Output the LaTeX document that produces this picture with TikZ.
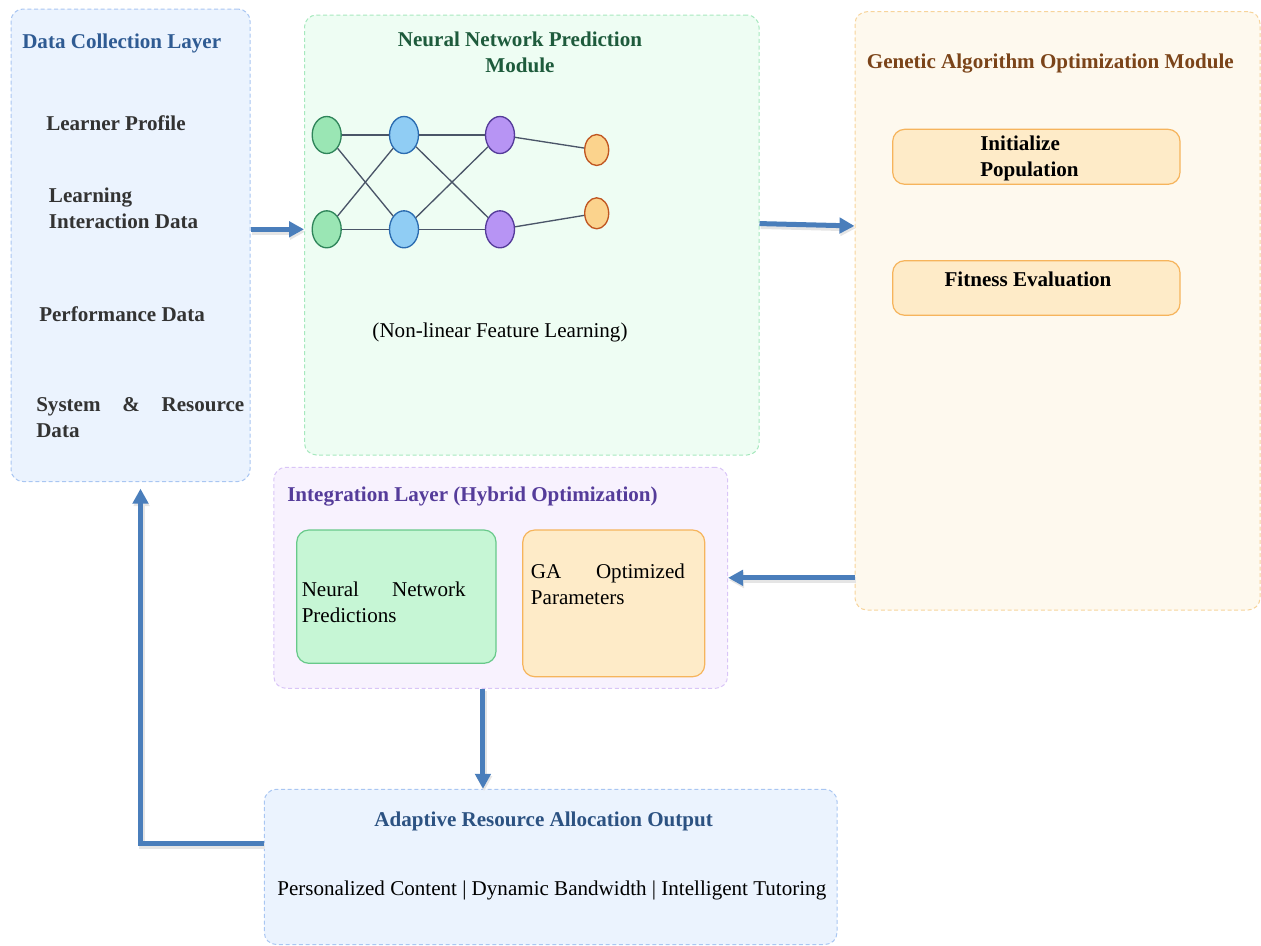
\documentclass[tikz,border=0pt]{standalone}
\usepackage{fontspec}
\setmainfont{Liberation Serif}
\usetikzlibrary{arrows.meta,shapes.geometric,fit}
\definecolor{dcfill}{HTML}{EBF3FE}
\definecolor{dcline}{HTML}{A9C6F2}
\definecolor{nnfill}{HTML}{EEFDF3}
\definecolor{nnline}{HTML}{A6E8BE}
\definecolor{gafill}{HTML}{FEF9EE}
\definecolor{galine}{HTML}{F7D49B}
\definecolor{infill}{HTML}{F8F2FE}
\definecolor{inline}{HTML}{D9C5F7}
\definecolor{predfill}{HTML}{C6F6D5}
\definecolor{predline}{HTML}{68C98A}
\definecolor{parfill}{HTML}{FEEBC8}
\definecolor{parline}{HTML}{F6B45C}
\definecolor{dctitle}{HTML}{2F5B93}
\definecolor{nntitle}{HTML}{1E5B3C}
\definecolor{gatitle}{HTML}{7B4419}
\definecolor{intitle}{HTML}{553C9A}
\definecolor{outtitle}{HTML}{2C5282}
\definecolor{itemgray}{HTML}{333333}
\definecolor{flowblue}{HTML}{4A7EBB}
\definecolor{linkgray}{HTML}{4A5568}
\definecolor{ngfill}{HTML}{9AE6B4}
\definecolor{ngline}{HTML}{2F855A}
\definecolor{nbfill}{HTML}{90CDF4}
\definecolor{nbline}{HTML}{2B6CB0}
\definecolor{npfill}{HTML}{B794F4}
\definecolor{npline}{HTML}{553C9A}
\definecolor{nofill}{HTML}{FBD38D}
\definecolor{noline}{HTML}{C05621}
\tikzset{
  panel/.style={draw, dash pattern=on 3pt off 2pt, line width=0.75pt, rounded corners=9pt, inner sep=0pt},
  inbox/.style={draw, line width=0.9pt, rounded corners=9pt, inner sep=0pt},
  neuron/.style={ellipse, draw, line width=1pt, minimum width=21.75pt, minimum height=27.75pt, inner sep=0pt},
  outneuron/.style={ellipse, draw, line width=1pt, minimum width=18pt, minimum height=23.25pt, inner sep=0pt},
  link/.style={draw=linkgray, line width=1pt},
  txt/.style={inner sep=0pt, align=left},
  ttl/.style={inner sep=0pt, font=\fontsize{15.8}{19.5}\selectfont\bfseries},
  item/.style={inner sep=0pt, align=left, text=itemgray, font=\fontsize{15.8}{19.5}\selectfont\bfseries},
  flow/.style={draw=flowblue, line width=3.75pt, -{Triangle[length=11.25pt,width=11.5pt]},
    preaction={draw=black!10, line width=4.5pt, transform canvas={shift={(0.8pt,-1.8pt)}}}}
}
\begin{document}
\begin{tikzpicture}[x=0.75pt,y=-0.75pt, font=\fontsize{15.8}{19.5}\selectfont]
\useasboundingbox (0,0) rectangle (1261,946);
% panels
\node[panel, draw=dcline, fill=dcfill, fit={(11,9) (250,481.5)}] (dc) {};
\node[panel, draw=nnline, fill=nnfill, fit={(304.5,15) (759,455)}] (nn) {};
\node[panel, draw=galine, fill=gafill, fit={(855,11.7) (1260,610)}] (ga) {};
\node[panel, draw=inline, fill=infill, fit={(273.8,467.3) (727.6,688.3)}] (int) {};
\node[panel, draw=dcline, fill=dcfill, fit={(264.3,789.3) (837,944.5)}] (out) {};
% inner boxes
\node[inbox, draw=parline, fill=parfill, fit={(892.7,129.3) (1180,184.3)}] (init) {};
\node[inbox, draw=parline, fill=parfill, fit={(892.7,260.7) (1180,315.3)}] (fit) {};
\node[inbox, draw=predline, fill=predfill, fit={(296.8,530) (496,663.3)}] (pred) {};
\node[inbox, draw=parline, fill=parfill, fit={(522.8,530) (704.7,676.7)}] (par) {};
% neurons
\node[neuron, draw=ngline, fill=ngfill] (g1) at (326.7,135) {};
\node[neuron, draw=ngline, fill=ngfill] (g2) at (326.7,229.3) {};
\node[neuron, draw=nbline, fill=nbfill] (b1) at (404,135) {};
\node[neuron, draw=nbline, fill=nbfill] (b2) at (404,229.3) {};
\node[neuron, draw=npline, fill=npfill] (p1) at (500,135) {};
\node[neuron, draw=npline, fill=npfill] (p2) at (500,229.3) {};
\node[outneuron, draw=noline, fill=nofill] (o1) at (596.7,150) {};
\node[outneuron, draw=noline, fill=nofill] (o2) at (596.7,213.3) {};
\draw[link] (g1) -- (b1);
\draw[link] (g1) -- (b2);
\draw[link] (g2) -- (b1);
\draw[link] (g2) -- (b2);
\draw[link] (b1) -- (p1);
\draw[link] (b1) -- (p2);
\draw[link] (b2) -- (p1);
\draw[link] (b2) -- (p2);
\draw[link] (p1) -- (o1);
\draw[link] (p2) -- (o2);
% texts: data collection
\node[ttl, text=dctitle, anchor=base west] (dct) at (22,48) {Data Collection Layer};
\node[item, anchor=base west] (lp) at (46,130) {Learner Profile};
\node[item, anchor=base west] (lid) at (48.7,228) {Learning\\Interaction Data};
\node[item, anchor=base west] (pd) at (39,321.7) {Performance Data};
\node[item, anchor=base west] (srd) at (36,437.7) {\hbox to 156pt{System\hfill\&\hfill Resource}\\Data};
% neural network module
\node[ttl, text=nntitle, align=center, anchor=base] (nnt) at (520,72.7) {Neural Network Prediction\\Module};
\node[txt, anchor=base] (nfl) at (500,337) {(Non-linear Feature Learning)};
% GA module
\node[ttl, text=gatitle, anchor=base] (gat) at (1050.3,68.3) {Genetic Algorithm Optimization Module};
\node[ttl, align=left, anchor=base west] (initt) at (980,176.7) {Initialize\\Population};
\node[ttl, anchor=base] (fitt) at (1028,286.7) {Fitness Evaluation};
% integration layer
\node[ttl, text=intitle, anchor=base west] (intt) at (287,501.7) {Integration Layer (Hybrid Optimization)};
\node[txt, anchor=base west] (predt) at (301.5,622.3) {\hbox to 123pt{Neural\hfill Network}\\Predictions};
\node[txt, anchor=base west] (part) at (530.7,604) {\hbox to 115.5pt{GA\hfill Optimized}\\Parameters};
% output
\node[ttl, text=outtitle, anchor=base] (outt) at (543.7,826.7) {Adaptive Resource Allocation Output};
\node[txt, anchor=base] (outb) at (551.8,895) {Personalized Content | Dynamic Bandwidth | Intelligent Tutoring};
% flows
\draw[flow] (dc.east |- g2) -- (nn.west |- g2);
\draw[flow] ([yshift=4.3pt]nn.east |- g2) -- ([yshift=2.5pt]ga.west |- g2);
\draw[flow] (ga.west |- int.east) -- (int.east);
\draw[flow] ([xshift=-13.3pt]int.south) -- ([xshift=-13.3pt]int.south |- out.north);
\draw[flow, shorten >=5pt] ([yshift=17.2pt]out.west) -| ([xshift=7.5pt]dc.south);
\end{tikzpicture}
\end{document}
